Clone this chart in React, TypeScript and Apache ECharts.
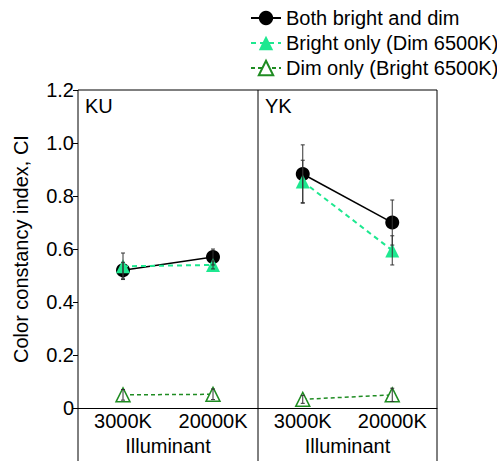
import React, { useEffect, useRef } from "react";
import * as echarts from "echarts";

// Illuminant categories shared by both observer panels
const illuminants = ["3000K", "20000K"];
const observers = ["KU", "YK"];

// Color constancy index per observer (index 0 = KU, 1 = YK)
const bothValues = [
  [0.52, 0.57],
  [0.883, 0.70],
];
const bothErrors = [
  [0.03, 0.03],
  [0.11, 0.085],
];
const brightOnlyValues = [
  [0.535, 0.54],
  [0.855, 0.595],
];
const brightOnlyErrors = [
  [0.05, 0.015],
  [0.08, 0.055],
];
const dimOnlyValues = [
  [0.05, 0.052],
  [0.033, 0.05],
];
const dimOnlyErrors = [
  [0.02, 0.02],
  [0.015, 0.025],
];

const yTicks = [0, 0.2, 0.4, 0.6, 0.8, 1.0, 1.2];

const FONT = "'Liberation Sans', Arial, Helvetica, sans-serif";
const FS = 20;
const BRIGHT = "#1ee890";
const DIM = "#1f8c22";

function errorBarSeries(gridIdx: number, values: number[][], errors: number[][]) {
  const data: number[][] = [];
  values.forEach((row, s) => {
    row.forEach((v, i) => data.push([i, v, errors[s][i]]));
  });
  return {
    type: "custom",
    xAxisIndex: gridIdx,
    yAxisIndex: gridIdx,
    z: 5,
    silent: true,
    data,
    renderItem: (_params: any, api: any) => {
      const x = api.value(0);
      const v = api.value(1);
      const e = api.value(2);
      const top = api.coord([x, v + e]);
      const bot = api.coord([x, v - e]);
      const cap = 2;
      const style = { stroke: "#333", lineWidth: 1 };
      return {
        type: "group",
        children: [
          { type: "line", shape: { x1: top[0], y1: top[1], x2: bot[0], y2: bot[1] }, style },
          { type: "line", shape: { x1: top[0] - cap, y1: top[1], x2: top[0] + cap, y2: top[1] }, style },
          { type: "line", shape: { x1: bot[0] - cap, y1: bot[1], x2: bot[0] + cap, y2: bot[1] }, style },
        ],
      };
    },
  };
}

export default function App() {
  const ref = useRef<HTMLDivElement>(null);

  useEffect(() => {
    if (!ref.current) return;
    const chart = echarts.init(ref.current, null, { renderer: "svg" });

    const grids = [
      { left: 78, top: 90, width: 180, height: 322 },
      { left: 258, top: 90, width: 179, height: 322 },
    ];

    const xAxes = grids.map((_, g) => ({
      type: "category",
      gridIndex: g,
      data: illuminants,
      boundaryGap: true,
      axisLine: { show: true, lineStyle: { color: "#000", width: 1 } },
      axisTick: { show: false },
      axisLabel: {
        color: "#000",
        fontSize: FS,
        fontFamily: FONT,
        margin: 3,
        interval: 0,
        hideOverlap: false,
      },
      name: "Illuminant",
      nameLocation: "middle",
      nameGap: 25,
      nameTextStyle: { color: "#000", fontSize: FS, fontFamily: FONT },
      splitLine: { show: false },
    }));

    const yAxes = grids.map((_, g) => ({
      type: "value",
      gridIndex: g,
      min: 0,
      max: 1.2,
      interval: 0.2,
      axisLine: { show: false },
      axisTick: {
        show: g === 0,
        length: 5,
        lineStyle: { color: "#000", width: 1 },
      },
      axisLabel: {
        show: g === 0,
        color: "#000",
        fontSize: FS,
        fontFamily: FONT,
        margin: 4,
        formatter: (v: number) => {
          const t = yTicks.find((k) => Math.abs(k - v) < 1e-6);
          const val = t === undefined ? v : t;
          return val === 0 ? "0" : val.toFixed(1);
        },
      },
      splitLine: { show: false },
      name: g === 0 ? "Color constancy index, CI" : "",
      nameLocation: "middle",
      nameGap: 47,
      nameTextStyle: { color: "#000", fontSize: FS, fontFamily: FONT },
    }));

    const series: any[] = [];
    observers.forEach((_, g) => {
      series.push({
        name: "Both bright and dim",
        type: "line",
        xAxisIndex: g,
        yAxisIndex: g,
        data: bothValues[g],
        symbol: "circle",
        symbolSize: 14,
        z: 2,
        itemStyle: { color: "#000" },
        lineStyle: { color: "#000", width: 1.5, type: "solid" },
      });
      series.push({
        name: "Bright only (Dim 6500K)",
        type: "line",
        xAxisIndex: g,
        yAxisIndex: g,
        data: brightOnlyValues[g],
        symbol: "triangle",
        symbolSize: 14,
        z: 3,
        itemStyle: { color: BRIGHT },
        lineStyle: { color: BRIGHT, width: 2, type: [5, 4] },
      });
      series.push({
        name: "Dim only (Bright 6500K)",
        type: "line",
        xAxisIndex: g,
        yAxisIndex: g,
        data: dimOnlyValues[g],
        symbol: "triangle",
        symbolSize: 14,
        z: 3,
        itemStyle: { color: "#fff", borderColor: DIM, borderWidth: 1.5 },
        lineStyle: { color: DIM, width: 1.5, type: [4, 3] },
      });
      series.push(
        errorBarSeries(
          g,
          [bothValues[g], brightOnlyValues[g], dimOnlyValues[g]],
          [bothErrors[g], brightOnlyErrors[g], dimOnlyErrors[g]]
        )
      );
    });

    const frame = { stroke: "#000", lineWidth: 1 };

    chart.setOption({
      animation: false,
      backgroundColor: "#fff",
      textStyle: { fontFamily: FONT },
      legend: {
        data: ["Both bright and dim", "Bright only (Dim 6500K)", "Dim only (Bright 6500K)"],
        orient: "vertical",
        left: 245,
        top: 3,
        itemWidth: 30,
        itemHeight: 18,
        itemGap: 5,
        selectedMode: false,
        textStyle: { color: "#000", fontSize: FS, fontFamily: FONT },
      },
      grid: grids,
      xAxis: xAxes,
      yAxis: yAxes,
      series,
      graphic: [
        { type: "line", shape: { x1: 78, y1: 90, x2: 437, y2: 90 }, style: frame },
        { type: "line", shape: { x1: 78, y1: 90, x2: 78, y2: 461 }, style: frame },
        { type: "line", shape: { x1: 258, y1: 90, x2: 258, y2: 461 }, style: frame },
        { type: "line", shape: { x1: 437, y1: 90, x2: 437, y2: 461 }, style: frame },
        {
          type: "text",
          x: 85,
          y: 96,
          style: { text: observers[0], fontSize: FS, fontFamily: FONT, fill: "#000" },
        },
        {
          type: "text",
          x: 265,
          y: 96,
          style: { text: observers[1], fontSize: FS, fontFamily: FONT, fill: "#000" },
        },
      ],
    });

    return () => chart.dispose();
  }, []);

  return <div ref={ref} style={{ width: 497, height: 461, position: "absolute", left: 0, top: 0 }} />;
}
